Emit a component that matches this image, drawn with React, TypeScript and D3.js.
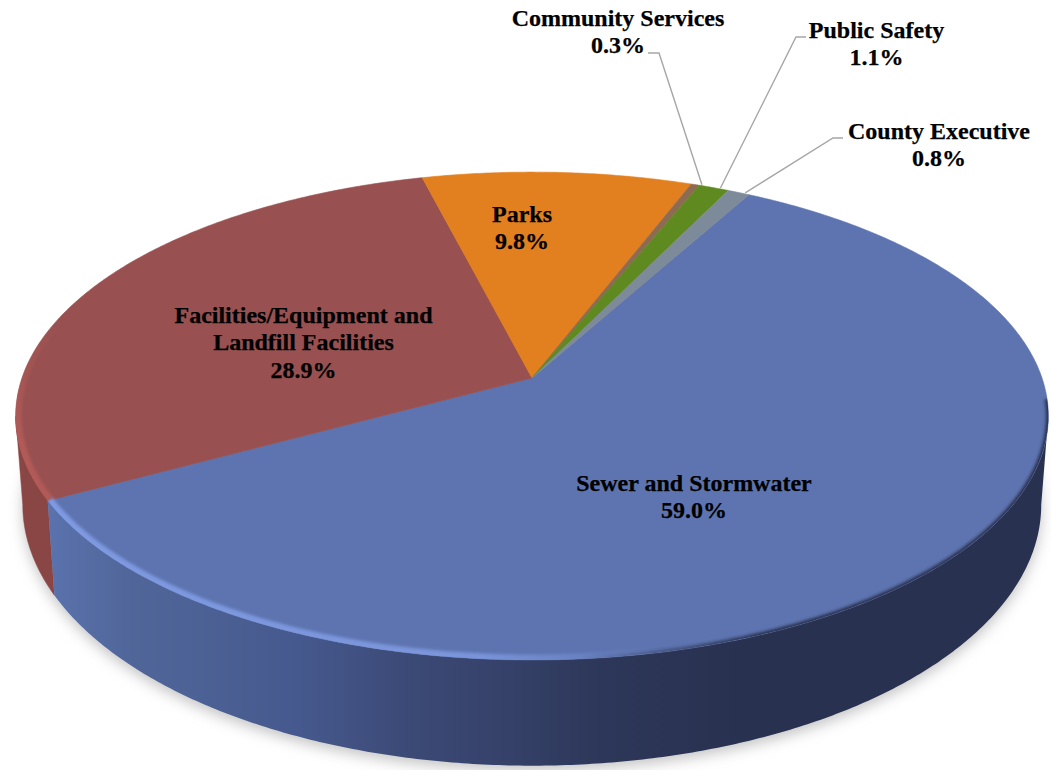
import * as d3 from 'd3'
import React from 'react'

const categories = ['Sewer and Stormwater', 'Facilities/Equipment and Landfill Facilities', 'Parks', 'Community Services', 'Public Safety', 'County Executive']
const values = [59.0, 28.9, 9.8, 0.3, 1.1, 0.8]
const colors = ['#5d74b0', '#985050', '#e27f1f', '#8d6b52', '#5f8a20', '#7d8a9a']

const labelLines = [
  ['Sewer and Stormwater'],
  ['Facilities/Equipment and', 'Landfill Facilities'],
  ['Parks'],
  ['Community Services'],
  ['Public Safety'],
  ['County Executive'],
]
const labelPos = [
  [694, 491],
  [303.5, 323],
  [522, 222],
  [618, 25.5],
  [876.5, 38],
  [939, 139],
]
// elbow and end of the leader lines, small slices only
const leaders = {
  3: [[659, 53], [648, 53]],
  4: [[796, 37], [806, 37]],
  5: [[833, 138], [843, 138]],
}

const width = 1051
const height = 770
const rad = Math.PI / 180
const START = 28.9 * rad
const persp = 0.156
const TOP = { cx: 532, cy: 378, rx: 510, ry: 238 }
const BOTTOM = { cx: 532, cy: 464, rx: 503, ry: 254.6 }

// angle clockwise from 12 o'clock, r in disc units, with perspective foreshortening
const project = (disc, a, r = 1) => {
  const u = Math.sin(a) * r
  const v = -Math.cos(a) * r
  const s = 1 / (1 - persp * v)
  return [disc.cx + disc.rx * u * s, disc.cy + disc.ry * v * s]
}

const sample = (disc, a0, a1) => {
  const n = Math.max(2, Math.ceil(Math.abs(a1 - a0) / (0.5 * rad)))
  return d3.range(n + 1).map((i) => project(disc, a0 + ((a1 - a0) * i) / n))
}

const line = d3.line()
const closed = (pts) => line(pts) + 'Z'

const SILHOUETTE_R = 99 * rad
const SILHOUETTE_L = 261 * rad

const App = () => {
  const arcs = d3.pie().value((d) => d).sort(null).startAngle(START).endAngle(START + 2 * Math.PI)(values)
  const sewer = arcs[0]
  const fac = arcs[1]
  const fullTop = closed(sample(TOP, 0, 2 * Math.PI))
  const fullBottom = closed(sample(BOTTOM, 0, 2 * Math.PI))

  const wall = (a0, a1) => closed([...sample(TOP, a0, a1), ...sample(BOTTOM, a1, a0)])

  return (
    <svg
      width={width}
      height={height}
      style={{ position: 'absolute', left: 0, top: 0, display: 'block' }}
      fontFamily="'Liberation Serif', serif"
    >
      <defs>
        <linearGradient id="wallBlue" gradientUnits="userSpaceOnUse" x1="50" x2="740" y1="0" y2="0">
          <stop offset="0" stopColor="#5a72ad" />
          <stop offset="0.12" stopColor="#506699" />
          <stop offset="0.36" stopColor="#46598e" />
          <stop offset="0.51" stopColor="#3c4a77" />
          <stop offset="0.65" stopColor="#36426a" />
          <stop offset="0.8" stopColor="#2d3759" />
          <stop offset="1" stopColor="#293150" />
        </linearGradient>
        <linearGradient id="rimLight" gradientUnits="userSpaceOnUse" x1="50" x2="660" y1="0" y2="0">
          <stop offset="0" stopColor="#7f9ae2" />
          <stop offset="0.7" stopColor="#7a94da" />
          <stop offset="1" stopColor="#7a94da" stopOpacity="0" />
        </linearGradient>
        <linearGradient id="rimDark" gradientUnits="userSpaceOnUse" x1="580" x2="760" y1="0" y2="0">
          <stop offset="0" stopColor="#2a3251" stopOpacity="0" />
          <stop offset="1" stopColor="#2a3251" />
        </linearGradient>
        <linearGradient id="rimRed" gradientUnits="userSpaceOnUse" x1="0" x2="0" y1="320" y2="440">
          <stop offset="0" stopColor="#b25a58" stopOpacity="0" />
          <stop offset="1" stopColor="#b25a58" />
        </linearGradient>
        <filter id="shadowBlur" x="-10%" y="-10%" width="120%" height="120%">
          <feGaussianBlur stdDeviation="7" />
        </filter>
        <filter id="rimBlur" x="-5%" y="-5%" width="110%" height="110%">
          <feGaussianBlur stdDeviation="1.4" />
        </filter>
        <clipPath id="topClip">
          <path d={fullTop} />
        </clipPath>
      </defs>

      <path d={fullBottom} fill="#c4c4c4" filter="url(#shadowBlur)" transform="translate(0 5)" />

      <path d={wall(fac.startAngle, SILHOUETTE_L)} fill="#8a4644" stroke="#8a4644" strokeWidth="0.5" />
      <path d={wall(SILHOUETTE_R, sewer.endAngle)} fill="url(#wallBlue)" />

      {arcs.map((d, i) => (
        <path
          key={i}
          d={closed([project(TOP, 0, 0), ...sample(TOP, d.startAngle, d.endAngle)])}
          fill={colors[i]}
          stroke={colors[i]}
          strokeWidth="0.6"
        />
      ))}

      <g clipPath="url(#topClip)">
        <path
          d={line(sample(TOP, 165 * rad, sewer.endAngle))}
          fill="none"
          stroke="url(#rimLight)"
          strokeWidth="11"
          filter="url(#rimBlur)"
        />
        <path
          d={line(sample(TOP, SILHOUETTE_R - 4 * rad, 200 * rad))}
          fill="none"
          stroke="url(#rimDark)"
          strokeWidth="5"
          filter="url(#rimBlur)"
        />
        <path
          d={line(sample(TOP, fac.startAngle, 290 * rad))}
          fill="none"
          stroke="url(#rimRed)"
          strokeWidth="12"
          filter="url(#rimBlur)"
        />
      </g>

      {arcs.map((d, i) => {
        const leader = leaders[i]
        if (!leader) return null
        const mid = (d.startAngle + d.endAngle) / 2 + 0.8 * rad
        const start = project(TOP, mid, 1.005)
        return (
          <path
            key={i}
            d={line([start, ...leader])}
            fill="none"
            stroke="#a6a6a6"
            strokeWidth="1.4"
          />
        )
      })}

      {categories.map((c, i) => {
        const [x, y] = labelPos[i]
        const lines = [...labelLines[i], `${values[i].toFixed(1)}%`]
        return (
          <text
            key={c}
            x={x}
            y={y}
            textAnchor="middle"
            fontSize="24"
            fontWeight="bold"
            fill="#000"
            stroke="#000"
            strokeWidth="0.25"
          >
            {lines.map((t, j) => (
              <tspan key={j} x={x} dy={j === 0 ? 0 : 27.4}>
                {t}
              </tspan>
            ))}
          </text>
        )
      })}
    </svg>
  )
}

export default App
